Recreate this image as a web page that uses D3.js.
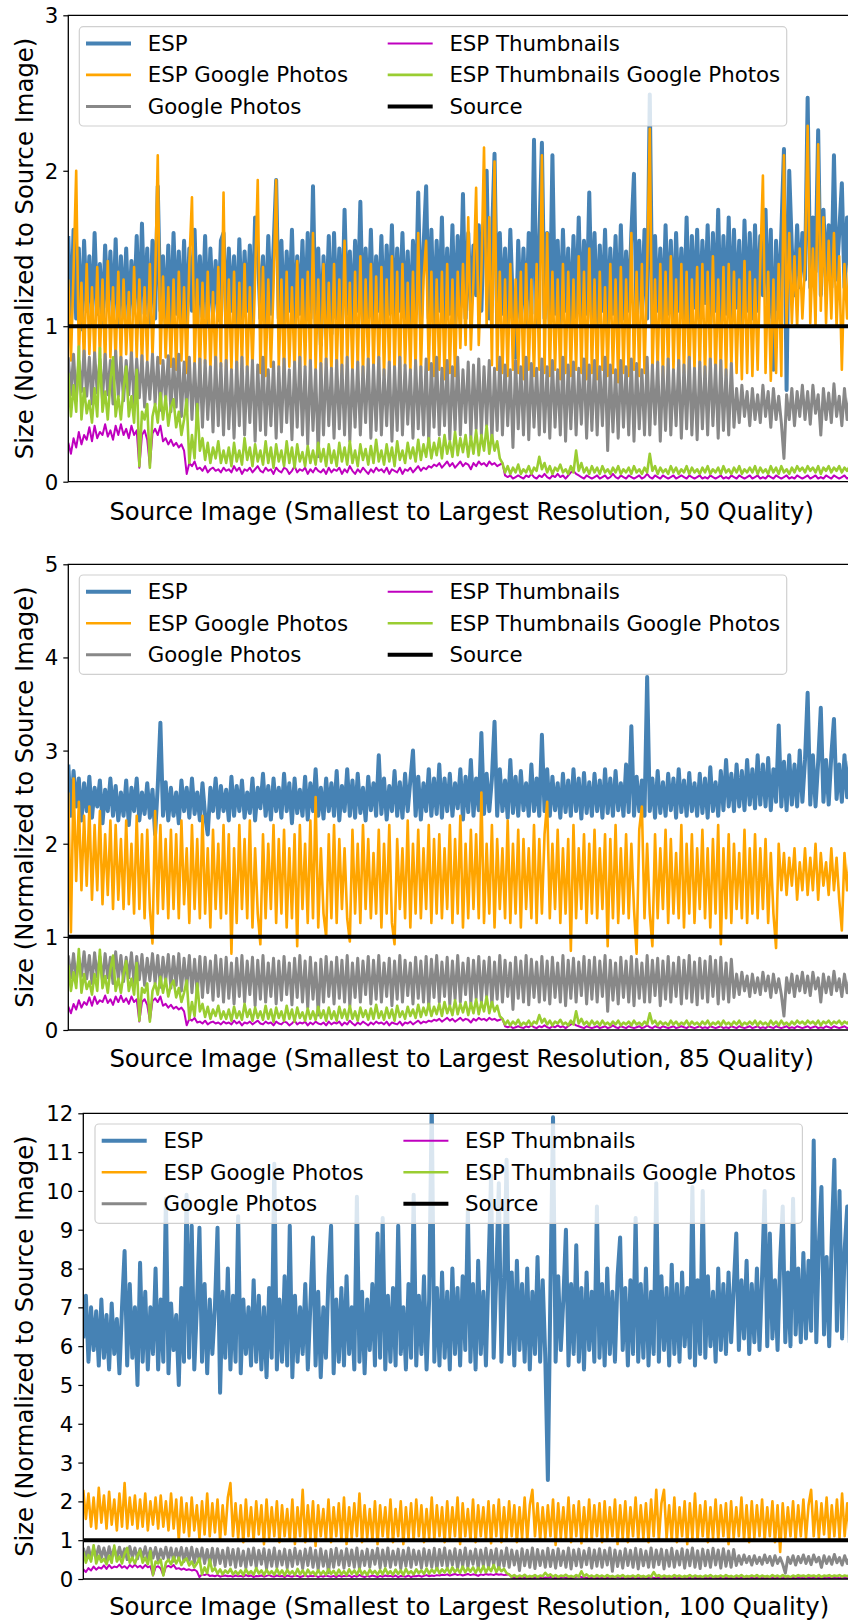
<!DOCTYPE html>
<html>
  <head>
    <meta charset="utf-8" />
    <title>ESP size comparison</title>
    <style>
      body { margin: 0; background: #fff; }
      text { font-family: 'DejaVu Sans', sans-serif; font-size: 21.3px; fill: #000; }
      .axis-label { font-size: 24.3px; }
      .spine { stroke: #000; stroke-width: 1.3px; fill: none; }
      .series { fill: none; stroke-linejoin: round; }
    </style>
    <script src="https://d3js.org/d3.v7.min.js"></script>
  </head>
  <body>
    <svg width="848" height="1622"></svg>
    <script>
      // series shared by all three panels (they do not depend on quality)
      var googlePhotos = [
        0.8,0.56,0.82,0.52,0.78,0.58,0.84,0.55,0.8,0.5,0.83,0.57,0.79,0.53,0.82,0.56,0.78,0.5,0.84,0.55,
        0.8,0.52,0.78,0.56,0.83,0.5,0.79,0.54,0.81,0.48,0.77,0.53,0.82,0.5,0.8,0.46,0.78,0.52,0.81,0.45,
        0.79,0.48,0.82,0.42,0.77,0.45,0.8,0.4,0.76,0.38,0.79,0.35,0.78,0.4,0.74,0.32,0.8,0.36,0.76,0.3,
        0.78,0.34,0.72,0.28,0.77,0.36,0.8,0.3,0.74,0.38,0.78,0.26,0.75,0.33,0.8,0.3,0.72,0.36,0.77,0.28,
        0.74,0.32,0.79,0.38,0.72,0.27,0.77,0.35,0.8,0.3,0.74,0.24,0.78,0.33,0.72,0.16,0.76,0.3,0.79,0.36,
        0.73,0.28,0.78,0.34,0.75,0.3,0.8,0.26,0.72,0.35,0.77,0.3,0.74,0.38,0.79,0.28,0.75,0.33,0.8,0.3,
        0.72,0.36,0.77,0.26,0.74,0.33,0.8,0.3,0.75,0.37,0.72,0.28,0.78,0.34,0.74,0.3,0.79,0.25,0.76,0.35,
        0.8,0.3,0.73,0.36,0.78,0.27,0.74,0.33,0.8,0.3,0.72,0.38,0.77,0.28,0.75,0.34,0.79,0.3,0.74,0.36,
        0.78,0.26,0.73,0.33,0.8,0.3,0.75,0.36,0.72,0.22,0.78,0.34,0.74,0.3,0.8,0.27,0.76,0.35,0.73,0.3,
        0.79,0.32,0.74,0.28,0.78,0.35,0.72,0.3,0.8,0.26,0.75,0.34,0.77,0.3,0.73,0.37,0.79,0.28,0.75,0.33,
        0.78,0.3,0.74,0.36,0.8,0.2,0.75,0.32,0.72,0.28,0.78,0.35,0.74,0.3,0.79,0.26,0.76,0.34,0.72,0.3,
        0.8,0.3,0.75,0.37,0.77,0.26,0.74,0.33,0.79,0.3,0.72,0.36,0.78,0.28,0.75,0.34,0.8,0.3,0.73,0.27,
        0.77,0.34,0.74,0.3,0.79,0.36,0.75,0.28,0.78,0.33,0.72,0.3,0.76,0.35,0.6,0.38,0.62,0.42,0.58,0.36,
        0.6,0.4,0.56,0.38,0.62,0.42,0.58,0.35,0.6,0.4,0.55,0.38,0.15,0.56,0.4,0.6,0.36,0.58,0.42,0.62,
        0.4,0.58,0.37,0.62,0.44,0.56,0.3,0.6,0.4,0.57,0.38,0.63,0.42,0.55,0.36,0.6,0.4,0.56,0.43,0.58
      ]
      var espThumbs = [
        0.25,0.18,0.28,0.22,0.32,0.24,0.3,0.27,0.35,0.26,0.36,0.28,0.32,0.3,0.37,0.29,0.33,0.27,0.36,0.3,
        0.37,0.3,0.34,0.28,0.36,0.3,0.33,0.09,0.3,0.33,0.27,0.1,0.31,0.34,0.3,0.36,0.26,0.28,0.24,0.27,
        0.23,0.25,0.22,0.24,0.2,0.05,0.12,0.1,0.13,0.08,0.09,0.07,0.1,0.06,0.08,0.09,0.07,0.08,0.06,0.09,
        0.07,0.08,0.06,0.1,0.07,0.09,0.05,0.08,0.07,0.09,0.06,0.08,0.1,0.07,0.06,0.09,0.07,0.08,0.05,0.09,
        0.07,0.06,0.09,0.08,0.05,0.07,0.1,0.06,0.08,0.07,0.09,0.05,0.08,0.06,0.09,0.07,0.06,0.08,0.05,0.09,
        0.06,0.08,0.07,0.09,0.05,0.08,0.06,0.1,0.07,0.05,0.08,0.06,0.09,0.07,0.05,0.08,0.06,0.09,0.07,0.08,
        0.06,0.09,0.05,0.08,0.07,0.06,0.09,0.05,0.08,0.07,0.09,0.06,0.08,0.1,0.07,0.09,0.08,0.1,0.09,0.11,
        0.1,0.12,0.09,0.11,0.13,0.1,0.12,0.09,0.11,0.13,0.1,0.12,0.11,0.08,0.12,0.1,0.13,0.11,0.12,0.1,
        0.13,0.11,0.12,0.1,0.11,0.12,0.04,0.03,0.04,0.02,0.03,0.04,0.03,0.02,0.04,0.03,0.05,0.03,0.02,0.04,
        0.03,0.05,0.03,0.02,0.04,0.03,0.05,0.03,0.04,0.02,0.04,0.06,0.07,0.05,0.04,0.03,0.02,0.04,0.03,0.02,
        0.03,0.04,0.02,0.03,0.04,0.02,0.03,0.05,0.03,0.02,0.04,0.03,0.02,0.04,0.03,0.02,0.03,0.04,0.02,0.03,
        0.05,0.03,0.02,0.04,0.03,0.02,0.04,0.03,0.02,0.03,0.04,0.02,0.03,0.04,0.03,0.02,0.04,0.03,0.02,0.03,
        0.04,0.02,0.03,0.02,0.04,0.03,0.02,0.03,0.04,0.02,0.03,0.02,0.04,0.03,0.02,0.04,0.03,0.02,0.03,0.04,
        0.02,0.03,0.04,0.02,0.03,0.02,0.04,0.03,0.02,0.04,0.03,0.02,0.03,0.04,0.02,0.03,0.02,0.04,0.03,0.02,
        0.03,0.04,0.02,0.03,0.04,0.02,0.03,0.02,0.04,0.03,0.02,0.04,0.03,0.02,0.03,0.04,0.02,0.03,0.04,0.03
      ]
      var espThumbsGP = [
        0.7,0.42,0.62,0.45,0.87,0.4,0.6,0.44,0.52,0.38,0.6,0.42,0.86,0.45,0.58,0.4,0.65,0.8,0.42,0.55,
        0.4,0.6,0.74,0.42,0.55,0.38,0.72,0.1,0.45,0.4,0.5,0.09,0.42,0.5,0.38,0.57,0.4,0.55,0.36,0.48,
        0.53,0.35,0.45,0.3,0.4,0.53,0.12,0.3,0.15,0.5,0.2,0.28,0.14,0.25,0.12,0.22,0.15,0.26,0.12,0.2,
        0.12,0.22,0.1,0.25,0.13,0.2,0.11,0.28,0.14,0.22,0.1,0.24,0.13,0.2,0.11,0.26,0.12,0.22,0.09,0.24,
        0.13,0.2,0.1,0.26,0.12,0.22,0.09,0.24,0.13,0.19,0.1,0.23,0.12,0.2,0.11,0.25,0.13,0.21,0.1,0.24,
        0.12,0.2,0.1,0.25,0.13,0.22,0.11,0.26,0.12,0.2,0.1,0.24,0.14,0.21,0.11,0.23,0.12,0.27,0.13,0.2,
        0.11,0.24,0.13,0.22,0.1,0.26,0.14,0.2,0.12,0.25,0.15,0.22,0.13,0.27,0.14,0.24,0.16,0.28,0.15,0.25,
        0.17,0.28,0.15,0.3,0.18,0.26,0.16,0.32,0.17,0.28,0.19,0.3,0.16,0.29,0.18,0.33,0.17,0.3,0.2,0.36,
        0.18,0.3,0.2,0.26,0.15,0.12,0.06,0.1,0.05,0.09,0.06,0.11,0.05,0.08,0.06,0.1,0.05,0.09,0.07,0.16,
        0.08,0.12,0.06,0.1,0.05,0.09,0.07,0.11,0.06,0.08,0.05,0.1,0.06,0.2,0.07,0.12,0.06,0.09,0.05,0.1,
        0.06,0.09,0.05,0.1,0.06,0.08,0.05,0.09,0.06,0.1,0.05,0.08,0.06,0.09,0.05,0.1,0.06,0.08,0.05,0.09,
        0.06,0.18,0.07,0.1,0.05,0.09,0.06,0.08,0.05,0.1,0.06,0.09,0.05,0.08,0.06,0.1,0.05,0.09,0.06,0.08,
        0.05,0.09,0.06,0.1,0.05,0.08,0.06,0.09,0.05,0.1,0.06,0.08,0.05,0.09,0.06,0.1,0.05,0.08,0.06,0.09,
        0.06,0.1,0.05,0.09,0.06,0.08,0.05,0.1,0.06,0.09,0.05,0.1,0.06,0.08,0.05,0.09,0.06,0.1,0.07,0.09,
        0.06,0.1,0.07,0.09,0.06,0.1,0.05,0.09,0.07,0.1,0.06,0.09,0.07,0.1,0.06,0.09,0.07,0.1,0.06,0.09
      ]

      // quality 50
      var esp50 = [
        1.58,1.0,1.62,1.05,1.5,0.98,1.55,1.1,1.45,1.02,1.6,1.08,1.4,1.0,1.52,1.12,1.48,1.03,1.56,1.0,
        1.45,1.06,1.5,1.0,1.42,1.1,1.58,1.02,1.66,1.08,1.5,1.0,1.55,1.05,1.9,1.1,1.45,1.02,1.52,1.0,
        1.6,1.08,1.48,1.03,1.55,1.0,1.5,1.1,1.62,1.02,1.45,1.06,1.58,1.0,1.5,1.08,1.42,1.04,1.55,1.6,
        1.02,1.5,1.1,1.45,1.0,1.56,1.05,1.48,1.1,1.52,1.02,1.7,1.5,1.05,1.45,1.0,1.58,1.08,1.5,1.94,
        1.05,1.55,1.0,1.48,1.1,1.62,1.02,1.45,1.08,1.55,1.0,1.6,1.05,1.9,1.02,1.5,0.88,1.45,1.05,1.58,
        0.95,1.6,1.05,1.5,1.0,1.75,1.08,1.48,1.02,1.55,1.1,1.8,1.0,1.5,1.06,1.62,1.02,1.45,1.1,1.58,
        1.0,1.52,1.08,1.65,1.02,1.5,1.1,1.6,1.05,1.48,1.0,1.55,1.08,1.86,1.02,1.5,1.9,1.05,1.62,1.0,
        1.55,1.1,1.7,1.02,1.5,1.08,1.65,1.0,1.58,1.12,1.85,1.05,1.6,1.1,1.52,1.2,1.65,1.1,1.7,2.0,
        1.05,1.55,2.11,1.0,1.6,1.08,1.5,1.02,1.62,1.1,0.8,1.55,1.05,1.5,1.0,1.6,1.08,2.2,1.02,1.55,
        2.18,1.05,1.6,1.0,2.1,1.08,1.55,1.02,1.62,1.1,1.5,1.0,1.58,1.06,1.7,1.02,1.55,1.08,1.86,1.05,
        1.6,1.0,1.52,1.1,1.62,1.02,1.5,1.08,1.58,1.0,1.65,1.05,1.48,1.1,1.6,1.98,1.02,1.55,1.08,1.62,
        1.05,2.49,1.0,1.58,1.1,1.5,1.02,1.65,1.08,1.55,1.0,1.6,1.1,1.5,1.04,1.7,1.02,1.58,1.12,1.62,
        1.05,1.55,1.15,1.65,1.02,1.6,1.1,1.75,1.0,1.58,1.08,1.7,1.05,1.62,1.12,1.55,1.0,1.68,1.1,1.6,
        1.05,1.65,1.1,1.58,1.2,1.75,1.05,1.62,0.72,1.55,1.1,1.6,2.14,0.59,2.0,1.5,1.2,1.65,1.25,1.6,
        1.3,2.47,1.25,1.7,1.35,2.26,1.2,1.75,1.3,1.65,1.25,2.1,1.3,1.6,1.92,1.25,1.7,1.35,1.6,1.3
      ]
      var espGP50 = [
        1.3,0.78,1.35,2.0,0.8,1.28,0.75,1.4,0.82,1.25,0.77,1.38,0.8,1.3,0.74,1.42,0.8,1.25,0.78,1.35,
        0.76,1.3,0.82,1.22,0.74,1.38,0.8,1.3,0.75,1.25,0.78,1.4,0.8,1.28,2.1,0.76,1.32,0.8,1.25,0.74,
        1.3,0.72,1.35,0.78,1.25,0.7,1.4,1.83,0.74,1.3,0.7,1.28,0.76,1.35,0.72,1.22,0.7,1.38,0.74,1.86,
        0.7,1.3,0.72,1.35,0.68,1.28,0.74,1.4,0.7,1.25,0.72,1.32,1.94,0.7,1.38,0.68,1.3,0.74,1.25,1.94,
        0.72,1.3,0.68,1.35,0.74,1.25,0.7,1.42,0.68,1.3,0.74,1.35,0.7,1.6,0.72,1.3,0.68,1.4,0.75,1.28,
        0.7,1.4,0.72,1.3,0.68,1.55,0.74,1.28,0.7,1.35,0.72,1.45,0.68,1.3,0.74,1.4,0.7,1.32,0.72,1.38,
        0.68,1.3,0.72,1.45,0.7,1.35,0.66,1.4,0.74,1.28,0.7,1.35,0.72,1.6,0.7,1.3,1.55,0.72,1.35,0.68,
        1.3,0.72,1.35,0.66,1.4,0.7,1.3,0.68,1.35,0.86,1.4,0.88,1.7,0.85,1.3,1.89,0.88,1.35,2.15,1.0,
        1.7,0.75,2.06,0.72,1.35,0.7,1.3,0.68,1.4,0.72,1.3,0.7,1.35,0.66,1.4,0.72,1.3,0.68,1.4,0.72,
        2.1,0.7,1.6,0.68,1.35,0.72,1.3,0.66,1.4,0.7,1.35,0.68,1.3,0.72,1.45,0.7,1.35,0.66,1.5,0.7,
        1.3,0.66,1.35,0.72,1.25,0.68,1.4,0.7,1.3,0.64,1.38,0.7,1.3,0.68,1.6,0.72,1.35,0.68,1.4,0.7,
        1.35,2.27,0.68,1.3,0.72,1.4,0.66,1.35,0.7,1.45,0.72,1.3,0.68,1.4,0.7,1.35,0.66,1.3,0.72,1.38,
        0.7,1.4,0.68,1.35,0.72,1.45,0.66,1.3,0.7,1.38,0.68,1.4,0.72,1.35,0.7,1.3,0.66,1.42,0.7,1.35,
        0.68,1.3,0.72,1.4,1.97,0.7,1.35,0.65,1.3,0.7,1.4,0.68,2.1,1.0,1.6,1.02,1.45,1.0,1.5,1.05,
        1.4,2.29,1.02,1.5,1.0,2.17,1.1,1.7,1.02,1.55,1.05,1.6,1.0,1.45,0.72,1.4,1.05,1.5,1.0,1.45
      ]

      // quality 85
      var esp85 = [
        2.85,2.3,2.78,2.4,2.7,2.25,2.65,2.35,2.72,2.28,2.6,2.4,2.68,2.22,2.58,2.35,2.7,2.3,2.62,2.25,
        2.55,2.3,2.68,2.2,2.6,2.35,2.7,2.25,2.55,2.32,2.65,2.28,2.58,2.1,2.62,3.3,2.3,2.66,2.25,2.6,
        2.3,2.55,2.22,2.68,2.35,2.6,2.28,2.7,2.32,2.55,2.25,2.65,2.3,2.1,2.6,2.35,2.7,2.28,2.62,2.35,
        2.58,2.25,2.72,2.3,2.62,2.35,2.68,2.28,2.55,2.33,2.7,2.25,2.6,2.38,2.75,2.3,2.62,2.26,2.7,2.35,
        2.6,2.28,2.75,2.35,2.65,2.22,2.7,2.33,2.58,2.3,2.72,2.26,2.65,2.35,2.8,2.3,2.6,2.27,2.7,2.35,
        2.65,2.3,2.78,2.25,2.62,2.35,2.8,2.3,2.68,2.28,2.75,2.33,2.6,2.25,2.72,2.36,2.65,2.3,2.95,2.32,
        2.7,2.26,2.62,2.35,2.78,2.3,2.66,2.28,2.75,2.35,2.68,3.0,2.3,2.72,2.26,2.65,2.35,2.8,2.3,2.7,
        2.32,2.85,2.28,2.7,2.35,2.75,2.3,2.65,2.38,2.8,2.26,2.72,2.34,2.9,2.3,2.7,2.36,3.19,2.32,2.75,
        2.35,2.7,3.31,2.3,2.8,2.35,2.68,2.28,2.9,2.33,2.72,2.3,2.78,2.36,2.65,2.3,2.85,2.35,2.7,2.3,
        3.17,2.35,2.8,2.3,2.72,2.36,2.65,2.28,2.75,2.34,2.68,2.3,2.8,2.35,2.7,2.27,2.76,2.33,2.66,2.3,
        2.75,2.35,2.68,2.28,2.8,2.33,2.7,2.3,2.78,2.36,2.65,2.3,2.85,2.34,3.26,2.3,2.72,2.35,2.68,2.3,
        3.79,2.35,2.7,2.28,2.78,2.33,2.66,2.3,2.75,2.36,2.7,2.28,2.8,2.34,2.68,2.3,2.76,2.35,2.65,2.3,
        2.75,2.33,2.7,2.28,2.82,2.35,2.66,2.3,2.78,2.36,2.9,2.4,2.75,2.35,2.85,2.4,2.78,2.36,2.9,2.42,
        2.8,2.38,2.95,2.42,2.85,2.4,2.92,2.36,2.8,2.45,3.27,2.4,2.88,2.36,2.95,2.42,2.85,2.4,3.0,2.45,
        2.9,3.62,2.42,2.95,2.4,2.88,3.46,2.45,2.9,2.42,2.95,3.34,2.48,2.85,2.45,2.95,2.5,2.88,2.45,2.8
      ]
      var espGP85 = [
        2.55,1.05,2.7,1.6,2.45,1.5,2.3,1.55,2.4,1.4,2.2,1.5,2.35,1.35,2.1,1.45,2.25,1.3,2.2,1.4,
        2.05,1.3,2.25,1.35,2.0,1.25,2.3,1.3,2.1,1.2,2.15,1.3,0.93,2.35,1.25,2.2,1.3,2.05,1.2,2.15,
        1.3,2.1,1.2,2.25,1.35,1.95,1.15,2.2,1.3,2.05,1.2,2.3,1.25,1.95,1.1,2.15,1.3,2.0,1.2,2.2,
        1.25,2.1,0.82,1.95,1.15,2.2,1.3,2.05,1.2,2.25,1.1,1.95,1.25,0.92,2.1,1.2,2.0,1.3,2.2,1.15,
        2.05,1.25,2.15,1.1,1.95,1.2,2.1,0.9,2.2,1.3,2.0,1.15,2.25,1.2,2.5,1.1,1.95,1.25,1.0,2.1,
        1.2,2.2,1.15,2.05,1.3,1.95,1.2,0.95,2.15,1.25,2.0,1.15,2.2,1.3,2.05,1.2,1.9,1.25,2.15,1.1,
        2.0,1.25,2.2,1.15,0.92,2.05,1.3,1.95,1.2,2.25,1.1,2.0,1.25,2.15,1.2,1.95,1.3,2.2,1.15,2.05,
        1.25,2.1,1.2,1.95,1.3,2.2,1.15,2.05,1.25,2.3,1.1,2.0,1.2,2.15,1.3,2.1,1.2,2.55,1.15,2.0,
        1.25,2.2,1.1,2.05,1.3,1.95,1.2,2.25,1.15,2.0,1.25,2.15,1.1,2.05,1.3,1.95,1.2,2.2,1.15,2.05,
        1.25,2.1,2.45,1.2,2.0,1.3,2.15,1.15,1.95,1.25,2.05,0.85,2.2,1.2,1.95,1.3,2.1,1.15,2.0,1.25,
        2.15,1.2,1.95,1.3,2.1,0.9,2.05,1.2,2.2,1.15,1.95,1.25,2.1,1.2,2.0,1.3,0.82,2.15,2.4,1.2,
        2.0,1.25,0.9,2.1,1.2,1.95,1.3,2.15,1.15,2.05,1.25,1.9,1.2,2.2,1.1,2.0,1.25,2.1,1.15,1.95,
        1.3,2.15,1.2,1.95,1.1,2.05,1.25,2.2,0.92,1.95,1.2,2.1,1.15,2.0,1.3,1.9,1.2,2.15,1.15,1.95,
        1.25,2.1,1.2,1.95,1.3,2.05,1.15,1.9,1.25,0.88,2.0,1.5,1.9,1.45,1.85,1.55,1.95,1.4,1.8,1.5,
        1.95,1.45,1.85,1.5,2.0,1.4,1.9,1.55,1.8,1.45,1.95,1.5,1.85,1.4,1.07,1.9,1.5,1.85,1.45,1.8
      ]

      // quality 100
      var esp100 = [
        6.2,7.3,5.6,7.0,5.9,6.9,5.5,7.2,5.7,6.8,5.4,7.1,5.8,6.7,5.3,7.0,8.45,5.5,7.6,5.7,
        7.0,5.0,8.15,5.6,7.4,5.4,7.0,5.8,8.0,5.4,7.2,5.6,9.8,5.3,7.1,5.9,6.8,5.0,7.5,5.6,
        9.9,5.7,9.1,5.4,7.0,9.05,5.6,7.6,5.3,7.2,5.8,7.0,9.05,4.8,7.4,5.7,8.0,5.4,7.3,5.6,
        9.35,5.3,7.2,5.8,7.0,5.5,7.7,5.6,7.3,5.4,7.0,5.2,7.5,5.7,10.7,5.4,7.2,5.6,7.8,5.5,
        9.1,5.2,7.3,5.6,7.0,5.8,7.6,5.4,7.1,8.8,5.5,7.4,5.2,7.0,5.7,7.8,9.1,5.3,7.2,5.6,
        7.5,5.5,7.8,5.8,7.0,5.4,9.85,5.6,7.4,5.3,7.2,5.9,7.6,5.5,8.9,5.7,9.3,5.4,7.3,5.6,
        7.5,5.5,9.1,5.8,7.0,5.4,7.6,5.7,9.9,5.5,7.3,5.8,7.8,5.4,7.2,12.3,5.6,7.5,5.5,7.9,
        5.7,7.4,5.4,8.0,5.8,7.5,5.5,7.8,5.9,9.5,5.6,7.6,5.4,8.2,5.8,7.4,5.5,8.0,10.4,5.7,
        7.8,10.2,5.6,7.5,10.8,5.8,7.9,5.5,8.2,5.9,7.6,5.6,8.0,5.4,7.4,5.8,8.3,5.6,7.7,5.7,
        2.55,7.5,11.9,5.6,7.8,5.9,7.2,9.0,5.5,7.6,5.8,8.6,5.6,7.5,5.4,7.9,5.9,7.4,5.6,9.6,
        5.7,7.6,5.5,8.0,5.8,7.4,5.6,7.8,8.8,5.9,7.5,5.5,7.7,5.8,9.3,5.6,7.6,5.7,8.0,5.5,
        7.4,5.8,10.2,5.6,7.8,5.9,7.5,5.5,8.1,5.8,7.6,5.6,7.9,6.0,7.5,5.7,10.1,5.5,7.7,5.8,
        10.0,5.7,7.8,6.0,7.4,5.6,8.0,5.9,7.6,5.8,7.9,6.1,7.5,8.9,5.9,7.7,6.2,8.2,5.8,7.6,
        6.1,8.0,5.9,7.8,10.0,6.0,8.9,6.2,7.7,5.9,8.2,9.6,6.1,7.9,6.0,9.8,6.3,8.0,6.1,8.4,
        6.2,8.2,6.4,11.3,6.1,8.6,10.1,6.3,8.3,6.0,8.8,10.8,6.4,10.0,6.2,8.5,9.6,6.1,8.0,6.3
      ]
      var espGP100 = [
        2.3,1.55,2.2,1.35,2.1,1.3,2.35,1.45,2.15,1.3,2.25,1.4,2.05,1.25,2.2,1.35,2.47,1.3,2.1,1.4,
        2.15,1.3,2.05,1.35,2.2,1.25,2.0,1.4,2.1,1.3,2.15,1.35,2.0,1.25,2.2,1.3,2.05,1.0,2.1,1.2,
        1.95,1.1,2.1,1.25,1.9,1.05,2.0,1.15,2.2,1.1,1.95,1.2,2.05,1.0,1.9,1.15,2.1,2.47,1.1,1.95,
        1.05,1.9,0.95,2.05,1.1,1.85,1.0,2.0,1.15,1.9,0.9,2.05,1.05,1.85,1.1,2.0,0.95,1.9,1.1,1.8,
        1.0,2.05,0.9,1.85,1.1,2.3,0.95,1.9,1.05,2.0,0.85,1.9,1.1,1.8,1.0,2.05,0.95,1.85,1.1,1.95,
        1.0,2.1,0.9,1.85,1.05,1.95,1.1,2.2,0.95,1.9,1.05,1.8,1.0,2.0,0.9,1.9,1.1,1.85,1.0,2.05,
        0.95,1.8,1.1,2.0,0.9,1.85,1.05,1.95,1.0,2.05,1.1,1.9,0.95,1.8,1.05,2.1,1.0,1.9,1.1,1.85,
        0.95,2.0,1.05,1.85,1.1,2.1,0.9,1.95,1.1,1.8,1.0,2.05,0.95,1.9,1.1,1.85,1.0,2.0,0.92,1.9,
        1.1,2.05,0.95,1.85,1.05,2.0,1.1,1.9,0.95,1.85,1.05,2.1,1.0,1.9,2.3,1.1,1.95,1.0,1.85,1.05,
        1.9,1.1,2.05,0.88,1.95,1.05,1.85,1.0,2.1,0.95,1.9,1.1,2.0,0.92,1.85,1.05,2.05,1.0,1.9,1.1,
        1.95,0.95,2.0,1.05,1.85,1.1,2.05,0.9,1.9,1.05,2.0,0.95,1.85,1.1,2.1,1.0,1.9,1.05,1.95,0.95,
        2.05,1.1,2.3,1.0,1.95,2.3,1.05,1.9,1.0,2.1,0.95,1.85,1.1,2.0,0.9,1.95,1.05,2.2,1.0,1.9,
        1.1,2.0,0.95,1.85,1.05,2.05,1.0,1.9,1.1,1.95,0.9,2.0,1.05,1.85,1.1,2.1,1.0,1.9,0.95,2.0,
        1.05,1.9,1.1,2.05,1.0,1.85,1.1,2.0,0.95,1.9,0.7,1.95,1.05,1.85,1.1,2.0,1.0,1.9,1.1,2.05,
        1.05,1.9,2.3,1.1,2.0,1.05,1.95,1.15,2.1,1.0,1.9,1.1,2.05,1.05,2.2,1.1,1.95,1.05,2.0,1.1
      ]

      var legendNames = ['ESP', 'ESP Google Photos', 'Google Photos', 'ESP Thumbnails', 'ESP Thumbnails Google Photos', 'Source']
      var colors = ['#4682b4', '#ffa500', '#888888', '#bf00bf', '#9acd32', '#000000']
      var widths = [4, 2.6, 3, 2, 2.6, 4]

      var panels = [
        { top: 15.3, bottom: 481.7, left: 68.3, yMax: 3, esp: esp50, gp: espGP50, quality: 50, legTop: 26.7, legLeft: 79.3, labelY: 511 },
        { top: 564.3, bottom: 1030, left: 68.3, yMax: 5, esp: esp85, gp: espGP85, quality: 85, legTop: 575, legLeft: 79.3, labelY: 1058 },
        { top: 1113.3, bottom: 1579, left: 83.3, yMax: 12, esp: esp100, gp: espGP100, quality: 100, legTop: 1124, legLeft: 95, labelY: 1606 }
      ]

      var svg = d3.select('svg')
      var right = 855

      panels.forEach(function (p, k) {
        var g = svg.append('g')
        var y = d3.scaleLinear().domain([0, p.yMax]).range([p.bottom, p.top])

        // clip lines to the axes box
        svg.append('clipPath').attr('id', 'clip' + k)
          .append('rect')
          .attr('x', p.left).attr('y', p.top)
          .attr('width', right - p.left).attr('height', p.bottom - p.top)

        var series = [p.esp, p.gp, googlePhotos, espThumbs, espThumbsGP]
        var plot = g.append('g').attr('clip-path', 'url(#clip' + k + ')')
        series.forEach(function (vals, s) {
          var x = d3.scaleLinear().domain([0, vals.length - 1]).range([p.left, right])
          var line = d3.line()
            .x(function (d, i) { return x(i) })
            .y(function (d) { return y(d) })
          plot.append('path')
            .attr('class', 'series')
            .attr('d', line(vals))
            .style('stroke', colors[s])
            .style('stroke-width', widths[s])
        })
        // source reference line at 1
        plot.append('line')
          .attr('x1', p.left).attr('x2', right)
          .attr('y1', y(1)).attr('y2', y(1))
          .style('stroke', '#000').style('stroke-width', 4)

        // y axis
        var axis = d3.axisLeft(y).ticks(p.yMax).tickSize(5).tickPadding(5).tickFormat(d3.format('d'))
        var ax = g.append('g').attr('transform', 'translate(' + p.left + ',0)').call(axis)
        ax.select('.domain').remove()
        ax.selectAll('.tick line').style('stroke', '#000').style('stroke-width', 1.2)
        ax.selectAll('.tick text').style('font-size', '21.3px').style('font-family', "'DejaVu Sans', sans-serif").attr('dy', '0.35em')

        // spines (left, top, bottom)
        g.append('path').attr('class', 'spine')
          .attr('d', 'M' + 848 + ',' + p.top + 'H' + p.left + 'V' + p.bottom + 'H' + 848)

        // legend
        var leg = g.append('g')
        leg.append('rect')
          .attr('x', p.legLeft).attr('y', p.legTop)
          .attr('width', 707.4).attr('height', 99.3)
          .attr('rx', 4)
          .style('fill', '#fff').style('fill-opacity', 0.8)
          .style('stroke', '#d0d0d0').style('stroke-width', 1.2)
        legendNames.forEach(function (name, s) {
          var col = Math.floor(s / 3)
          var row = s % 3
          var hx = p.legLeft + 6.7 + col * 301.7
          var ly = p.legTop + 16.7 + row * 31.5
          leg.append('line')
            .attr('x1', hx).attr('x2', hx + 45)
            .attr('y1', ly).attr('y2', ly)
            .style('stroke', colors[s]).style('stroke-width', widths[s])
          leg.append('text')
            .attr('x', hx + 61.7).attr('y', ly)
            .attr('dy', '0.35em')
            .text(name)
        })

        // axis labels
        g.append('text')
          .attr('class', 'axis-label')
          .attr('x', (p.left + right) / 2).attr('y', p.labelY)
          .attr('text-anchor', 'middle').attr('dy', '0.35em')
          .text('Source Image (Smallest to Largest Resolution, ' + p.quality + ' Quality)')
        g.append('text')
          .attr('class', 'axis-label')
          .attr('transform', 'translate(24,' + (p.top + p.bottom) / 2 + ') rotate(-90)')
          .attr('text-anchor', 'middle').attr('dy', '0.35em')
          .text('Size (Normalized to Source Image)')
      })
    </script>
  </body>
</html>
